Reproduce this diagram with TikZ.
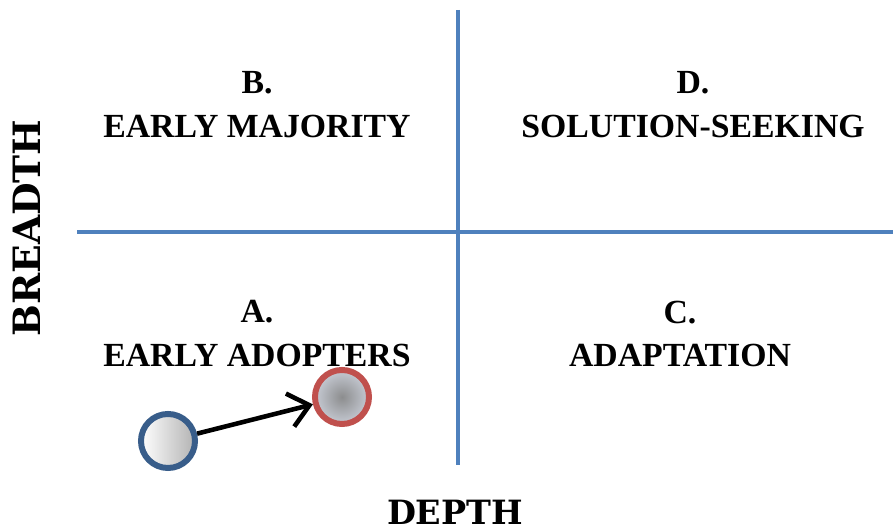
\documentclass[tikz,border=0pt]{standalone}
\usepackage{fontspec}
\setmainfont{Liberation Serif}
\newfontfamily\axisfont{DejaVu Serif}
\usetikzlibrary{arrows.meta}
\definecolor{axisblue}{RGB}{79,129,189}
\definecolor{startblue}{RGB}{56,93,138}
\definecolor{endred}{RGB}{192,80,77}
\definecolor{shadegray}{RGB}{198,202,211}
\definecolor{coregray}{RGB}{140,141,142}

\begin{document}
\begin{tikzpicture}[x=0.01cm, y=-0.01cm,
  axis/.style={axisblue, line width=1.4pt},
  quad/.style={font=\bfseries\fontsize{9.6}{12.5}\selectfont, align=center},
  axislabel/.style={font=\axisfont\bfseries\fontsize{#1}{12}\selectfont},
  dot/.style={circle, minimum size=0.54cm, inner sep=0pt, line width=1.7pt}]
  \useasboundingbox (0,0) rectangle (893,531);
  \draw[axis] (458,10) -- (458,465);
  \draw[axis] (77,232) -- (893,232);
   \foreach \n/\x/\y/\t in {b/257/105/{B.\\EARLY MAJORITY},d/693/105/{D.\\SOLUTION-SEEKING},a/257/334/{A.\\EARLY ADOPTERS},c/680/334/{C.\\ADAPTATION}}
   {
    \node[quad] (q\n) at (\x,\y) {\t};
   }
  \node[axislabel=9.5] (depth) at (455,512) {DEPTH};
  \node[axislabel=10.7, rotate=90] (breadth) at (27,228) {BREADTH};
  \node[dot, draw=startblue, left color=white, right color=gray!60] (start) at (168,441) {};
  \node[dot, draw=endred, inner color=coregray, outer color=shadegray] (target) at (342,397) {};
  \draw[line width=1.3pt, -{Straight Barb[length=2mm,width=3.4mm]}] (start) -- (target);
\end{tikzpicture}
\end{document}
